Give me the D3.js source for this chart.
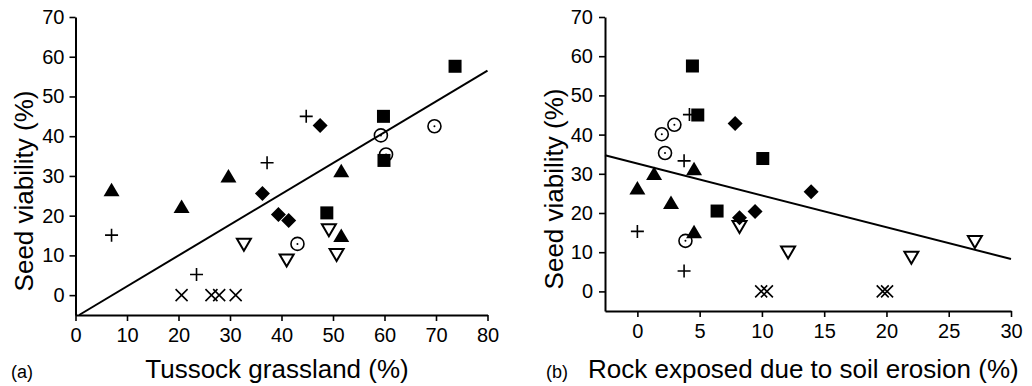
<!DOCTYPE html>
<html>
<head>
<meta charset="utf-8">
<script src="https://cdn.jsdelivr.net/npm/d3@7"></script>
<style>
  html, body { margin: 0; padding: 0; background: #fff; }
  svg { display: block; font-family: "Liberation Sans", Arial, sans-serif; }
</style>
</head>
<body>
<svg id="chart" width="1032" height="386"></svg>
<script>
// ---- Panel (a): Tussock grassland (%) vs seed viability (%)
const aTriangle = [[7.0, 26.5], [20.6, 22.3], [29.7, 30.0], [51.6, 31.3], [51.6, 15.0]];
const aPlus     = [[7.0, 15.1], [23.5, 5.2], [37.2, 33.3], [44.8, 45.0]];
const aDiamond  = [[47.5, 42.7], [36.3, 25.6], [39.4, 20.3], [41.4, 18.8]];
const aSquare   = [[73.7, 57.6], [59.8, 45.0], [59.9, 33.9], [48.8, 20.7]];
const aCircle   = [[59.3, 40.2], [60.3, 35.4], [69.7, 42.5], [43.1, 12.9]];
const aDownTri  = [[32.7, 12.7], [41.0, 8.7], [49.2, 16.3], [50.7, 10.1]];
const aCross    = [[20.6, 0], [26.4, 0], [27.9, 0], [31.1, 0]];
const aFit      = [-5.55, 0.776]; // intercept, slope
const aXTicks   = [0, 10, 20, 30, 40, 50, 60, 70, 80];

// ---- Panel (b): Rock exposed due to soil erosion (%) vs seed viability (%)
const bTriangle = [[0.0, 26.4], [1.34, 30.1], [2.7, 22.7], [4.55, 31.3], [4.55, 15.2]];
const bPlus     = [[0.0, 15.3], [3.75, 5.2], [3.75, 33.3], [4.18, 45.1]];
const bDiamond  = [[7.85, 42.8], [13.95, 25.4], [9.45, 20.4], [8.2, 18.8]];
const bSquare   = [[4.42, 57.5], [4.85, 45.0], [10.07, 33.9], [6.4, 20.5]];
const bCircle   = [[1.96, 40.1], [2.97, 42.5], [2.22, 35.3], [3.86, 12.9]];
const bDownTri  = [[8.2, 16.4], [12.1, 9.9], [22.0, 8.6], [27.1, 12.6]];
const bCross    = [[9.94, 0], [10.4, 0], [19.7, 0], [20.05, 0]];
const bFit      = [32.6, -0.811];
const bXTicks   = [0, 5, 10, 15, 20, 25, 30];

const yTicks = [0, 10, 20, 30, 40, 50, 60, 70];
const yLabel = "Seed viability (%)";
const aXLabel = "Tussock grassland (%)";
const bXLabel = "Rock exposed due to soil erosion (%)";
const aTag = "(a)";
const bTag = "(b)";

const svg = d3.select("#chart");

const marker = {
  triangle: (g, px, py) => g.append("path")
      .attr("d", `M${px-8},${py+6.5}L${px+8},${py+6.5}L${px},${py-7}Z`).attr("fill", "#000"),
  downTri: (g, px, py) => g.append("path")
      .attr("d", `M${px-7},${py-6}L${px+7},${py-6}L${px},${py+6}Z`)
      .attr("fill", "none").attr("stroke", "#000").attr("stroke-width", 2),
  square: (g, px, py) => g.append("rect")
      .attr("x", px - 6.5).attr("y", py - 6.5).attr("width", 13).attr("height", 13).attr("fill", "#000"),
  diamond: (g, px, py) => g.append("path")
      .attr("d", `M${px},${py-7.5}L${px+7.5},${py}L${px},${py+7.5}L${px-7.5},${py}Z`).attr("fill", "#000"),
  circle: (g, px, py) => {
    g.append("circle").attr("cx", px).attr("cy", py).attr("r", 6.5)
      .attr("fill", "none").attr("stroke", "#000").attr("stroke-width", 1.6);
    g.append("circle").attr("cx", px).attr("cy", py).attr("r", 1).attr("fill", "#000");
  },
  plus: (g, px, py) => g.append("path")
      .attr("d", `M${px-6.5},${py}H${px+6.5}M${px},${py-6.5}V${py+6.5}`)
      .attr("stroke", "#000").attr("stroke-width", 1.6),
  cross: (g, px, py) => g.append("path")
      .attr("d", `M${px-6},${py-6}L${px+6},${py+6}M${px+6},${py-6}L${px-6},${py+6}`)
      .attr("stroke", "#000").attr("stroke-width", 1.6)
};

function panel(cfg) {
  const x = d3.scaleLinear().domain(cfg.xDomain).range(cfg.xRange);
  const y = d3.scaleLinear().domain([-5, 70]).range(cfg.yRange);
  const g = svg.append("g");

  // axes
  const yAxis = d3.axisLeft(y).tickValues(yTicks).tickSize(6).tickSizeOuter(0).tickPadding(cfg.yPad);
  const xAxis = d3.axisBottom(x).tickValues(cfg.xTicks).tickSize(6).tickSizeOuter(0).tickPadding(7);
  const ya = g.append("g").attr("transform", `translate(${cfg.xRange[0]},0)`).call(yAxis);
  const xa = g.append("g").attr("transform", `translate(0,${cfg.yRange[0]})`).call(xAxis);
  [ya, xa].forEach(a => {
    a.select(".domain").attr("stroke", "#000").attr("stroke-width", 2);
    a.selectAll(".tick line").attr("stroke", "#000").attr("stroke-width", 1.6);
    a.selectAll(".tick text").attr("fill", "#000").attr("font-size", 20)
      .attr("font-family", "Liberation Sans, Arial, sans-serif");
  });

  // regression line
  const [b0, b1] = cfg.fit;
  let xs = cfg.xDomain[0];
  const yAtStart = b0 + b1 * xs;
  if (yAtStart < -5) xs = (-5 - b0) / b1;
  const xe = cfg.xDomain[1];
  g.append("line")
    .attr("x1", x(xs)).attr("y1", y(b0 + b1 * xs))
    .attr("x2", x(xe)).attr("y2", y(b0 + b1 * xe))
    .attr("stroke", "#000").attr("stroke-width", 2);

  // points
  const m = g.append("g");
  cfg.series.forEach(([type, data]) => {
    data.forEach(d => marker[type](m, x(d[0]), y(d[1])));
  });

  // labels
  g.append("text").attr("transform", `translate(${cfg.yLabelX},${cfg.yLabelY}) rotate(-90)`)
    .attr("text-anchor", "middle").attr("font-size", 26).attr("fill", "#000").text(yLabel);
  g.append("text").attr("x", cfg.xLabelX).attr("y", 378)
    .attr("text-anchor", cfg.xLabelAnchor).attr("font-size", 26).attr("fill", "#000").text(cfg.xLabel);
  g.append("text").attr("x", cfg.tagX).attr("y", 378)
    .attr("font-size", 18).attr("fill", "#000").text(cfg.tag);
}

panel({
  xDomain: [0, 80], xRange: [75.5, 487.5], yRange: [315, 17], xTicks: aXTicks, fit: aFit, yPad: 5,
  series: [["triangle", aTriangle], ["plus", aPlus], ["diamond", aDiamond], ["square", aSquare],
           ["circle", aCircle], ["downTri", aDownTri], ["cross", aCross]],
  yLabelX: 33, yLabelY: 191, xLabel: aXLabel, xLabelX: 277, xLabelAnchor: "middle",
  tag: aTag, tagX: 11
});

panel({
  xDomain: [-2.6, 30], xRange: [605, 1011], yRange: [311, 17], xTicks: bXTicks, fit: bFit, yPad: 6,
  series: [["triangle", bTriangle], ["plus", bPlus], ["diamond", bDiamond], ["square", bSquare],
           ["circle", bCircle], ["downTri", bDownTri], ["cross", bCross]],
  yLabelX: 563, yLabelY: 189, xLabel: bXLabel, xLabelX: 588, xLabelAnchor: "start",
  tag: bTag, tagX: 546
});
</script>
</body>
</html>
